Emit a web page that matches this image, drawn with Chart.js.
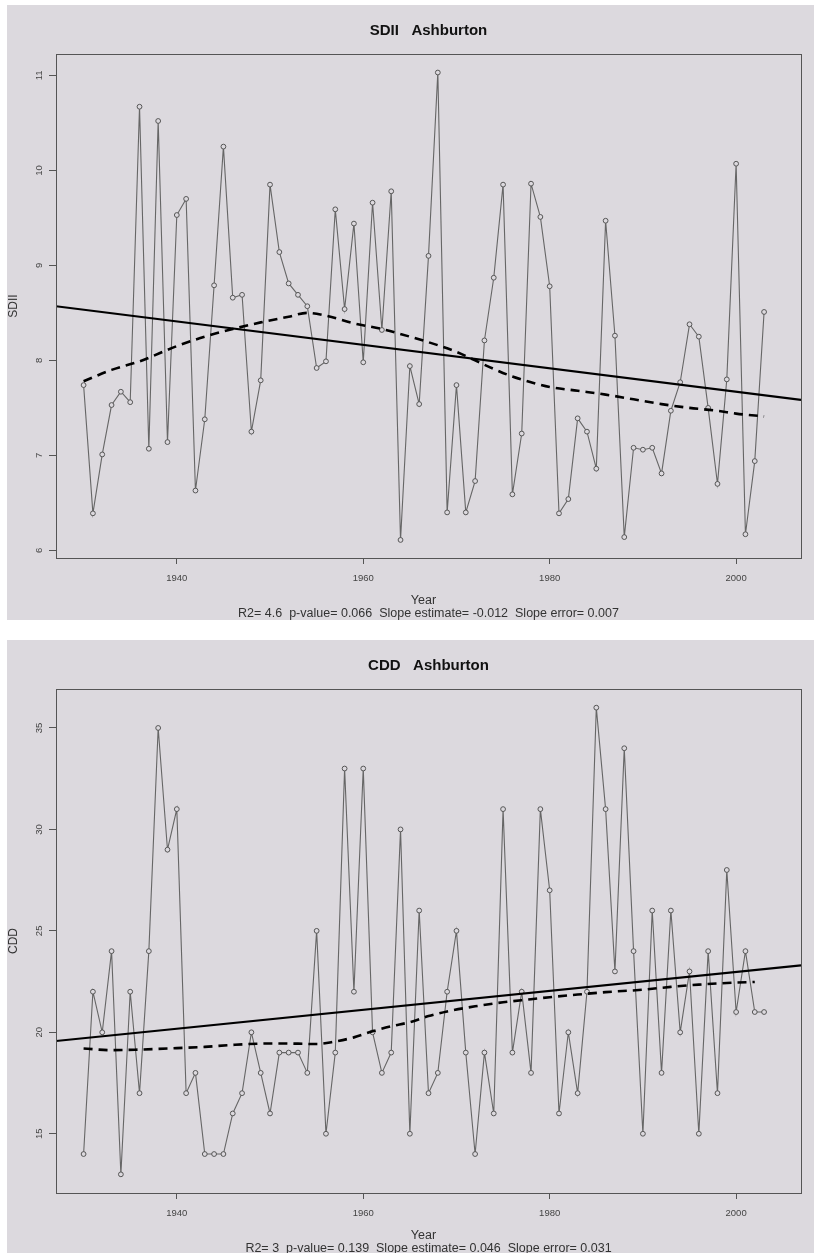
<!DOCTYPE html>
<html>
<head>
<meta charset="utf-8">
<script src="https://cdn.jsdelivr.net/npm/chart.js@4/dist/chart.umd.min.js"></script>
<style>
  body { margin: 0; background: #fff; }
  .panel { position: absolute; left: 7px; width: 807px; background: #dcd9de; }
  #p1 { top: 5px; height: 615px; }
  #p2 { top: 640px; height: 613px; }
  canvas { display: block; }
</style>
</head>
<body>
<div class="panel" id="p1"><canvas id="sdiiChart" width="807" height="615"></canvas></div>
<div class="panel" id="p2"><canvas id="cddChart" width="807" height="613"></canvas></div>
<script>
const years = [1930, 1931, 1932, 1933, 1934, 1935, 1936, 1937, 1938, 1939,
  1940, 1941, 1942, 1943, 1944, 1945, 1946, 1947, 1948, 1949,
  1950, 1951, 1952, 1953, 1954, 1955, 1956, 1957, 1958, 1959,
  1960, 1961, 1962, 1963, 1964, 1965, 1966, 1967, 1968, 1969,
  1970, 1971, 1972, 1973, 1974, 1975, 1976, 1977, 1978, 1979,
  1980, 1981, 1982, 1983, 1984, 1985, 1986, 1987, 1988, 1989,
  1990, 1991, 1992, 1993, 1994, 1995, 1996, 1997, 1998, 1999,
  2000, 2001, 2002, 2003];

const sdiiValues = [7.74, 6.39, 7.01, 7.53, 7.67, 7.56, 10.67, 7.07, 10.52, 7.14,
  9.53, 9.70, 6.63, 7.38, 8.79, 10.25, 8.66, 8.69, 7.25, 7.79,
  9.85, 9.14, 8.81, 8.69, 8.57, 7.92, 7.99, 9.59, 8.54, 9.44,
  7.98, 9.66, 8.32, 9.78, 6.11, 7.94, 7.54, 9.10, 11.03, 6.40,
  7.74, 6.40, 6.73, 8.21, 8.87, 9.85, 6.59, 7.23, 9.86, 9.51,
  8.78, 6.39, 6.54, 7.39, 7.25, 6.86, 9.47, 8.26, 6.14, 7.08,
  7.06, 7.08, 6.81, 7.47, 7.77, 8.38, 8.25, 7.50, 6.70, 7.80,
  10.07, 6.17, 6.94, 8.51];

const cddValues = [14, 22, 20, 24, 13, 22, 17, 24, 35, 29,
  31, 17, 18, 14, 14, 14, 16, 17, 20, 18,
  16, 19, 19, 19, 18, 25, 15, 19, 33, 22,
  33, 20, 18, 19, 30, 15, 26, 17, 18, 22,
  25, 19, 14, 19, 16, 31, 19, 22, 18, 31,
  27, 16, 20, 17, 22, 36, 31, 23, 34, 24,
  15, 26, 18, 26, 20, 23, 15, 24, 17, 28,
  21, 24, 21, 21];

// smooth (lowess) curves, read at a few years
const sdiiLowessYears = [1930, 1933, 1936, 1940, 1943, 1946, 1949, 1952, 1954, 1956, 1959, 1962, 1965, 1968,
  1970, 1972, 1974, 1976, 1978, 1980, 1983, 1986, 1989, 1992, 1995, 1998, 2000, 2003];
const sdiiLowessValues = [7.78, 7.90, 7.99, 8.15, 8.25, 8.33, 8.40, 8.46, 8.50, 8.47, 8.39, 8.33, 8.25, 8.16,
  8.09, 8.00, 7.91, 7.83, 7.77, 7.72, 7.68, 7.64, 7.59, 7.54, 7.50, 7.47, 7.44, 7.41];

const cddLowessYears = [1930, 1933, 1936, 1940, 1943, 1946, 1950, 1953, 1955, 1957, 1959, 1961, 1963, 1965,
  1967, 1969, 1972, 1975, 1978, 1980, 1983, 1986, 1990, 1993, 1996, 1999, 2002];
const cddLowessValues = [19.20, 19.12, 19.15, 19.22, 19.28, 19.38, 19.45, 19.44, 19.42, 19.55, 19.75, 20.05, 20.30, 20.50,
  20.80, 21.03, 21.28, 21.48, 21.63, 21.73, 21.86, 21.98, 22.10, 22.24, 22.35, 22.43, 22.48];

// linear fit, read at the plot edges
const xRange = [1927.04, 2006.96];
const sdiiTrendValues = [8.57, 7.585];
const cddTrendValues = [19.57, 23.30];

const xTicks = [1940, 1960, 1980, 2000];
const sdiiTicks = [6, 7, 8, 9, 10, 11];
const cddTicks = [15, 20, 25, 30, 35];

const BG = '#dcd9de';
const FONT = '"Liberation Sans", Arial, sans-serif';

const rStyle = {
  id: 'rStyle',
  afterDraw(chart, args, opts) {
    const { ctx, chartArea: a, scales } = chart;
    const cx = (a.left + a.right) / 2;
    ctx.save();
    ctx.strokeStyle = '#555';
    ctx.lineWidth = 1;
    ctx.strokeRect(a.left + 0.5, a.top + 0.5, a.right - a.left, a.bottom - a.top);

    ctx.textAlign = 'center';
    ctx.textBaseline = 'middle';
    ctx.fillStyle = '#111';
    ctx.font = 'bold 15px ' + FONT;
    ctx.fillText(opts.title, cx, 26);

    ctx.fillStyle = '#444';
    ctx.font = '9.5px ' + FONT;
    xTicks.forEach(v => ctx.fillText(String(v), scales.x.getPixelForValue(v), a.bottom + 20));
    opts.yTicks.forEach(v => {
      ctx.save();
      ctx.translate(a.left - 17, scales.y.getPixelForValue(v));
      ctx.rotate(-Math.PI / 2);
      ctx.fillText(String(v), 0, 0);
      ctx.restore();
    });

    ctx.fillStyle = '#333';
    ctx.font = '12.5px ' + FONT;
    ctx.fillText('Year', cx - 5, a.bottom + 43);
    ctx.fillText(opts.stats, cx, a.bottom + 56);
    ctx.font = '12px ' + FONT;
    ctx.save();
    ctx.translate(a.left - 42, (a.top + a.bottom) / 2);
    ctx.rotate(-Math.PI / 2);
    ctx.fillText(opts.yLabel, 0, 0);
    ctx.restore();
    ctx.restore();
  }
};

function makePanel(id, values, lowYears, lowValues, trendValues, yTicks, yMin, yMax, bottomH, title, yLabel, stats) {
  const ctx = document.getElementById(id).getContext('2d');
  return new Chart(ctx, {
    type: 'line',
    data: {
      datasets: [
        { data: xRange.map((x, i) => ({ x, y: trendValues[i] })), borderColor: '#000', borderWidth: 2.2, pointRadius: 0 },
        { data: lowYears.map((x, i) => ({ x, y: lowValues[i] })), borderColor: '#000', borderWidth: 2.6, borderDash: [9, 6], pointRadius: 0, cubicInterpolationMode: 'monotone' },
        { data: years.map((x, i) => ({ x, y: values[i] })), borderColor: '#666', borderWidth: 1.1, pointRadius: 2.4, pointBorderWidth: 1, pointBorderColor: '#555', pointBackgroundColor: BG }
      ]
    },
    options: {
      responsive: false,
      animation: false,
      devicePixelRatio: 1,
      layout: { padding: { top: 49, right: 13, left: 0, bottom: 0 } },
      plugins: {
        legend: { display: false },
        tooltip: { enabled: false },
        rStyle: { title, yLabel, stats, yTicks }
      },
      scales: {
        x: {
          type: 'linear', min: xRange[0], max: xRange[1],
          afterBuildTicks: s => { s.ticks = xTicks.map(v => ({ value: v })); },
          afterFit: s => { s.height = bottomH; },
          ticks: { display: false },
          border: { display: false },
          grid: { drawOnChartArea: false, drawTicks: true, tickLength: 6, tickColor: '#555', tickWidth: 1 }
        },
        y: {
          min: yMin, max: yMax,
          afterBuildTicks: s => { s.ticks = yTicks.map(v => ({ value: v })); },
          afterFit: s => { s.width = 49; },
          ticks: { display: false },
          border: { display: false },
          grid: { drawOnChartArea: false, drawTicks: true, tickLength: 7, tickColor: '#555', tickWidth: 1 }
        }
      }
    },
    plugins: [rStyle]
  });
}

makePanel('sdiiChart', sdiiValues, sdiiLowessYears, sdiiLowessValues, sdiiTrendValues, sdiiTicks, 5.92, 11.225, 62,
  'SDII   Ashburton', 'SDII', 'R2= 4.6  p-value= 0.066  Slope estimate= -0.012  Slope error= 0.007');
makePanel('cddChart', cddValues, cddLowessYears, cddLowessValues, cddTrendValues, cddTicks, 12.08, 36.92, 60,
  'CDD   Ashburton', 'CDD', 'R2= 3  p-value= 0.139  Slope estimate= 0.046  Slope error= 0.031');
</script>
</body>
</html>
